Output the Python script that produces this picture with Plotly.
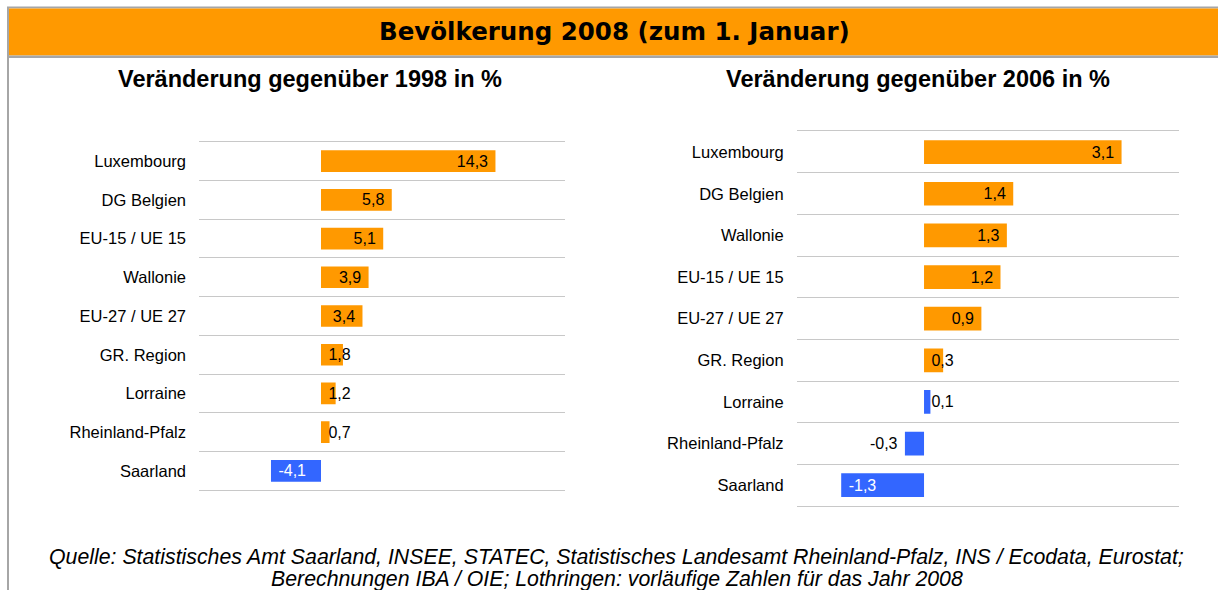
import plotly.graph_objects as go

W, H = 1218, 590

# ---------------- data ----------------
categories_1998 = ["Luxembourg", "DG Belgien", "EU-15 / UE 15", "Wallonie", "EU-27 / UE 27",
                   "GR. Region", "Lorraine", "Rheinland-Pfalz", "Saarland"]
values_1998 = [14.3, 5.8, 5.1, 3.9, 3.4, 1.8, 1.2, 0.7, -4.1]

categories_2006 = ["Luxembourg", "DG Belgien", "Wallonie", "EU-15 / UE 15", "EU-27 / UE 27",
                   "GR. Region", "Lorraine", "Rheinland-Pfalz", "Saarland"]
values_2006 = [3.1, 1.4, 1.3, 1.2, 0.9, 0.3, 0.1, -0.3, -1.3]

main_title = "Bevölkerung 2008 (zum 1. Januar)"
subtitle_1998 = "Veränderung gegenüber 1998 in %"
subtitle_2006 = "Veränderung gegenüber 2006 in %"
source_line_1 = ("Quelle: Statistisches Amt Saarland, INSEE, STATEC, Statistisches Landesamt "
                 "Rheinland-Pfalz, INS / Ecodata, Eurostat;")
source_line_2 = "Berechnungen IBA / OIE; Lothringen: vorläufige Zahlen für das Jahr 2008"

# ---------------- style ----------------
ORANGE = "#FF9900"
BLUE = "#3366FF"
GRID = "#C8C8C8"
BORDER = "#A6A6A6"
FONT = "Liberation Sans, Arial, sans-serif"
NBSP = "\u00a0"

colors_1998 = [BLUE if v < 0 else ORANGE for v in values_1998]
colors_2006 = [BLUE if (v < 0 or c == "Lorraine") else ORANGE
               for c, v in zip(categories_2006, values_2006)]


def px_x(p):
    return p / W


def px_y(p):
    return 1 - p / H


fig = go.Figure()


def add_bars(cats, vals, colors, min_inside, xa, ya, bar_w):
    fit = [i for i, v in enumerate(vals) if abs(v) >= min_inside]
    small = [i for i, v in enumerate(vals) if abs(v) < min_inside]
    fig.add_trace(go.Bar(
        orientation="h",
        x=[vals[i] for i in fit], y=[cats[i] for i in fit],
        width=bar_w,
        marker=dict(color=[colors[i] for i in fit], line_width=0),
        texttemplate=[(NBSP + "%{x:.1f}") if vals[i] < 0 else ("%{x:.1f}" + NBSP) for i in fit],
        textposition="inside", insidetextanchor="end", constraintext="none", textangle=0,
        textfont=dict(family=FONT, size=16,
                      color=["white" if vals[i] < 0 else "black" for i in fit]),
        xaxis=xa, yaxis=ya, hoverinfo="skip", showlegend=False,
    ))
    fig.add_trace(go.Bar(
        orientation="h",
        x=[vals[i] for i in small], y=[cats[i] for i in small],
        width=bar_w,
        marker=dict(color=[colors[i] for i in small], line_width=0),
        texttemplate=[("%{x:.1f}" + NBSP) if vals[i] < 0 else (NBSP + "%{x:.1f}") for i in small],
        textposition=["outside" if vals[i] < 0 else "inside" for i in small],
        insidetextanchor="start", constraintext="none", textangle=0, cliponaxis=False,
        textfont=dict(family=FONT, size=16, color="black"),
        outsidetextfont=dict(family=FONT, size=16, color="black"),
        insidetextfont=dict(family=FONT, size=16, color="black"),
        xaxis=xa, yaxis=ya, hoverinfo="skip", showlegend=False,
    ))


add_bars(categories_1998, values_1998, colors_1998, 2.5, "x", "y", 0.56)
add_bars(categories_2006, values_2006, colors_2006, 0.5, "x2", "y2", 0.57)

# x axes: no ticks; their line (mirrored) gives the top and bottom grid lines
xcommon = dict(showgrid=False, zeroline=False, showticklabels=False,
               showline=True, mirror=True, linecolor=GRID, linewidth=1,
               ticks="", fixedrange=True)


def ycommon(cats):
    return dict(type="category", categoryorder="array", categoryarray=cats,
                range=[len(cats) - 0.5, -0.5], tickson="boundaries",
                showgrid=True, gridcolor=GRID, gridwidth=1, ticks="",
                ticklabelstandoff=12, zeroline=False, showline=False, fixedrange=True,
                tickfont=dict(family=FONT, size=16.5, color="black"))


fig.update_layout(
    width=W, height=H,
    margin=dict(l=0, r=0, t=0, b=0),
    paper_bgcolor="white", plot_bgcolor="white",
    barmode="overlay",
    separators=",.",
    xaxis=dict(domain=[px_x(199), px_x(565)], range=[-10, 20], anchor="y", **xcommon),
    yaxis=dict(domain=[px_y(490.3), px_y(141.7)], anchor="x", **ycommon(categories_1998)),
    xaxis2=dict(domain=[px_x(796.6), px_x(1178.9)], range=[-2, 4], anchor="y2", **xcommon),
    yaxis2=dict(domain=[px_y(506), px_y(131.3)], anchor="x2", **ycommon(categories_2006)),
)

shapes = [
    dict(type="rect", xref="paper", yref="paper",
         x0=px_x(8), x1=px_x(1240), y0=px_y(7.5), y1=px_y(620),
         line=dict(color=BORDER, width=2), fillcolor="rgba(0,0,0,0)", layer="above"),
    dict(type="rect", xref="paper", yref="paper",
         x0=px_x(9), x1=px_x(1240), y0=px_y(8.5), y1=px_y(55.5),
         line=dict(width=0), fillcolor=ORANGE, layer="above"),
    dict(type="line", xref="paper", yref="paper",
         x0=px_x(8), x1=px_x(1240), y0=px_y(56.8), y1=px_y(56.8),
         line=dict(color=BORDER, width=2.5), layer="above"),
]
fig.update_layout(shapes=shapes)

annotations = [
    dict(text="<b>" + main_title + "</b>", x=px_x(614.5), y=px_y(31.3),
         font=dict(family="DejaVu Sans, sans-serif", size=24.5, color="black")),
    dict(text="<b>" + subtitle_1998 + "</b>", x=px_x(310.3), y=px_y(79),
         font=dict(family=FONT, size=23.5, color="black")),
    dict(text="<b>" + subtitle_2006 + "</b>", x=px_x(918), y=px_y(79),
         font=dict(family=FONT, size=23.5, color="black")),
    dict(text="<i>" + source_line_1 + "</i>", x=px_x(616), y=px_y(557),
         font=dict(family=FONT, size=21.3, color="black")),
    dict(text="<i>" + source_line_2 + "</i>", x=px_x(616.5), y=px_y(578.5),
         font=dict(family=FONT, size=21.3, color="black")),
]
for a in annotations:
    a.update(xref="paper", yref="paper", xanchor="center", yanchor="middle",
             showarrow=False)
fig.update_layout(annotations=annotations)

# remove the default page margin so the 1218x590 figure fills the window exactly
fig.write_html(
    "out.html",
    config={"displayModeBar": False, "staticPlot": True},
    post_script="document.body.style.margin='0';document.body.style.overflow='hidden';",
)
